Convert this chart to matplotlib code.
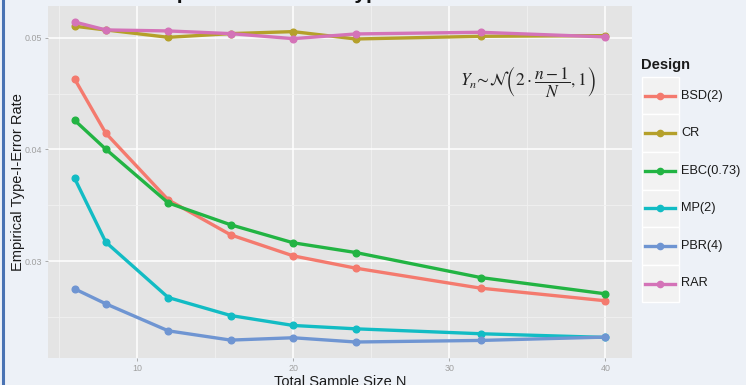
import numpy as np
import matplotlib
matplotlib.use('Agg')
import matplotlib.pyplot as plt
from matplotlib.lines import Line2D
from matplotlib.patches import Rectangle
from matplotlib.ticker import MultipleLocator

matplotlib.rcParams['font.family'] = ['Liberation Sans', 'DejaVu Sans']
matplotlib.rcParams['mathtext.fontset'] = 'stix'

# data
sample_sizes = [6, 8, 12, 16, 20, 24, 32, 40]
designs = ['BSD(2)', 'CR', 'EBC(0.73)', 'MP(2)', 'PBR(4)', 'RAR']
bsd = [0.04631, 0.04145, 0.03548, 0.03235, 0.03047, 0.02937, 0.02758, 0.02645]
cr = [0.05102, 0.05069, 0.05003, 0.05036, 0.05054, 0.04988, 0.05012, 0.05018]
ebc = [0.04261, 0.04002, 0.03521, 0.03325, 0.03164, 0.03077, 0.02853, 0.02707]
mp = [0.03742, 0.03170, 0.02674, 0.02513, 0.02424, 0.02394, 0.02350, 0.02317]
pbr = [0.02752, 0.02618, 0.02376, 0.02293, 0.02314, 0.02276, 0.02290, 0.02320]
rar = [0.05140, 0.05069, 0.05060, 0.05036, 0.04991, 0.05033, 0.05048, 0.05006]
series = [bsd, cr, ebc, mp, pbr, rar]
colors = ['#F47A6E', '#B5A02A', '#22B443', '#12BCC4', '#6F95D2', '#D473B8']

W, H = 746, 385
bg = '#EDF1F7'
fig = plt.figure(figsize=(W / 100, H / 100), dpi=100, facecolor=bg)

# blue frame line on the left edge
fig.add_artist(Line2D([2.5 / W, 2.5 / W], [0, 1], color='#4A73B3', lw=2.2))

ax = fig.add_axes([48 / W, 1 - 358 / H, (632 - 48) / W, (358 - 6) / H])
ax.set_facecolor('#E4E4E4')
for s in ax.spines.values():
    s.set_visible(False)

for vals, c in zip(series, colors):
    ax.plot(sample_sizes, vals, color=c, lw=2.4, marker='o', ms=4.8,
            zorder=3, solid_capstyle='round')

xr = max(sample_sizes) - min(sample_sizes)
ax.set_xlim(min(sample_sizes) - 0.05 * xr, max(sample_sizes) + 0.05 * xr)
allv = np.concatenate(series)
yr = allv.max() - allv.min()
ax.set_ylim(allv.min() - 0.05 * yr, allv.max() + 0.05 * yr)

ax.xaxis.set_major_locator(MultipleLocator(10))
ax.xaxis.set_minor_locator(MultipleLocator(5))
ax.yaxis.set_major_locator(MultipleLocator(0.01))
ax.yaxis.set_minor_locator(MultipleLocator(0.005))
ax.yaxis.set_major_formatter(matplotlib.ticker.FormatStrFormatter('%.2f'))
ax.grid(which='major', color='white', lw=1.1, zorder=0)
ax.grid(which='minor', color='#F0F0F0', lw=0.6, zorder=0)
ax.set_axisbelow(True)
ax.tick_params(which='major', length=2.5, width=0.6, color='#A0A0A0',
               labelsize=6.4, labelcolor='#A0A0A0', pad=1.5)
ax.tick_params(which='minor', length=0)

ax.set_xlabel('Total Sample Size N', fontsize=10.5, color='#1A1A1A', labelpad=1.5)
ax.set_ylabel('Empirical Type-I-Error Rate', fontsize=10.5, color='#1A1A1A', labelpad=0.3)

ax.text(0.822, 0.785, r'$Y_n\!\sim\!\mathcal{N}\left(2\cdot\dfrac{n-1}{N},1\right)$',
        transform=ax.transAxes, ha='center', va='center', fontsize=12.5, color='#222222')

# title, mostly cut off by the top edge
fig.text(150 / W, 1 + 1.2 / H, 'Dependence of the Type-I-Error Rate',
         fontsize=15, fontweight='bold', ha='left', va='baseline', color='#111111')

# legend
fig.text(641.5 / W, 1 - 65 / H, 'Design', fontsize=10.5, fontweight='bold',
         ha='left', va='center', color='#1A1A1A')
key_top, key_h = 76.7, 37.6
for i, (name, c) in enumerate(zip(designs, colors)):
    y0 = key_top + i * key_h
    fig.add_artist(Rectangle((641.7 / W, 1 - (y0 + key_h) / H), 37.3 / W, key_h / H,
                             facecolor='#F2F2F2', edgecolor='white', lw=1.0))
    yc = 1 - (y0 + key_h / 2) / H
    fig.add_artist(Line2D([645 / W, 675 / W], [yc, yc], color=c, lw=2.4))
    fig.add_artist(Line2D([660 / W], [yc], color=c, marker='o', ms=4.5))
    fig.text(681 / W, yc, name, fontsize=9.2, ha='left', va='center', color='#1A1A1A')

fig.savefig('out.png', dpi=100, facecolor=bg)
